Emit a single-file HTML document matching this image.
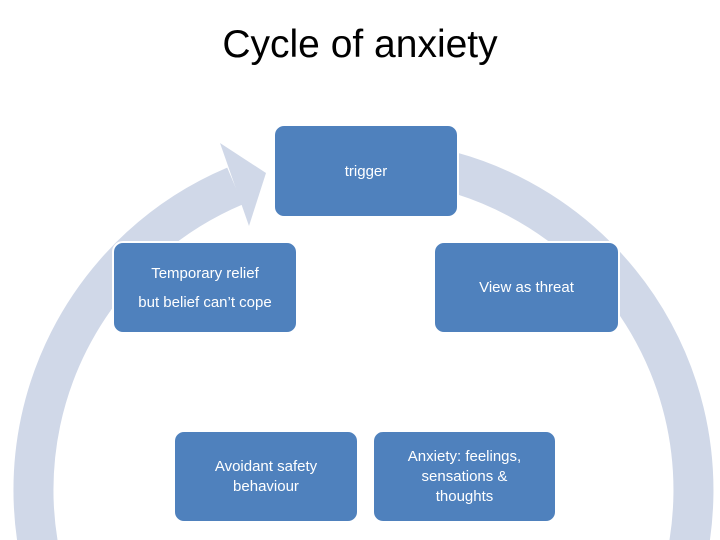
<!DOCTYPE html>
<html><head><style>
body{margin:0;width:720px;height:540px;background:#fff;position:relative;overflow:hidden;font-family:"Liberation Sans",sans-serif}
.t{position:absolute;top:23px;left:0;width:720px;text-align:center;font-size:39px;color:#000}
.b{position:absolute;background:#4f81bd;border:2px solid #fff;border-radius:11px;color:#fff;font-size:15px;display:flex;align-items:center;justify-content:center;text-align:center;box-sizing:border-box;line-height:20px}
</style></head><body>
<svg width="720" height="540" style="position:absolute;left:0;top:0;overflow:hidden">
<path d="M 400 162 A 330 330 0 1 1 235 186" fill="none" stroke="#d0d8e8" stroke-width="40"/>
<polygon points="220,143 266,173 249,226" fill="#d0d8e8"/>
</svg>
<div class="t">Cycle of anxiety</div>
<div class="b" style="left:273px;top:124px;width:186px;height:94px;align-items:flex-start;padding-top:36px">trigger</div>
<div class="b" style="left:112px;top:241px;width:186px;height:93px;line-height:29px">Temporary relief<br>but belief can’t cope</div>
<div class="b" style="left:433px;top:241px;width:187px;height:93px">View as threat</div>
<div class="b" style="left:173px;top:430px;width:186px;height:93px">Avoidant safety<br>behaviour</div>
<div class="b" style="left:372px;top:430px;width:185px;height:93px">Anxiety: feelings,<br>sensations &amp;<br>thoughts</div>
</body></html>
